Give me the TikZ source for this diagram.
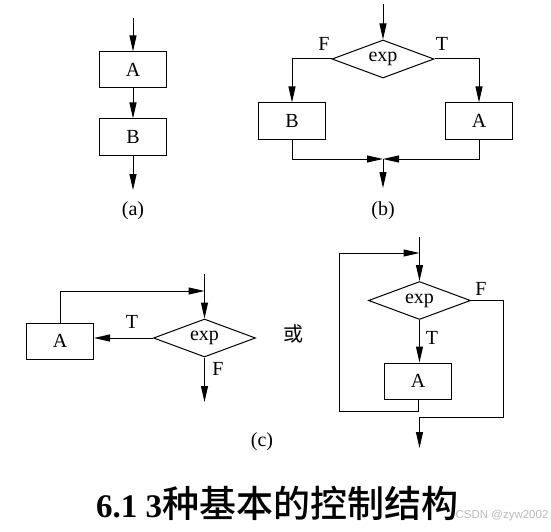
\documentclass[tikz,border=0pt]{standalone}
\usepackage{fontspec}
\setmainfont{Liberation Serif}
\newfontfamily\cjk{Noto Sans CJK SC}
\newfontfamily\cjkmed{Noto Sans CJK SC}[UprightFont=* Medium]
\newfontfamily\wmfont{Liberation Sans}
\usepackage{tikz}
\usepackage{xcolor}
\usetikzlibrary{shapes.geometric,arrows.meta}
\tikzset{
  block/.style={ % image of a processing box
    draw, rectangle, line width=1pt,
    minimum width=67pt, minimum height=36pt,
    inner sep=0pt, text=black,
    font=\fontsize{20}{20}\selectfont
  },
  decide/.style={  % image of a test (diamond)
    draw, diamond, aspect=2.7, line width=1pt,
    minimum width=102pt, minimum height=38pt,
    inner sep=0pt, text=black,
    font=\fontsize{20}{20}\selectfont
  },
  lab/.style={
    inner sep=0pt, font=\fontsize{20}{20}\selectfont
  }
}

\begin{document}
\begin{tikzpicture}[
      x=1pt, y=-1pt, line width=1pt,
      >={Triangle[length=16pt,width=7pt]}
    ]
      \useasboundingbox (0,0) rectangle (551,532);

      % (a) sequence
      \coordinate (a_in) at (133,18);
      \node[block] (a_A) at (133,70) {A};
      \node[block] (a_B) at (133,137) {B};
      \coordinate (a_out) at (133,190);
      \draw[->] (a_in) -- (a_A);
      \draw[->] (a_A) -- (a_B);
      \draw[->] (a_B) -- (a_out);
      \node[lab] (a_cap) at (133,211) {(a)};

      % (b) selection
      \coordinate (b_in) at (383,4);
      \node[decide] (b_exp) at (383,59) {exp};
      \node[block] (b_B) at (292,121) {B};
      \node[block] (b_A) at (479,121) {A};
      \coordinate (b_join) at (383,159);
      \coordinate (b_out) at (383,188);
      \draw[->] (b_in) -- (b_exp);
      \draw[->] (b_exp.west) -| (b_B.north);
      \draw[->] (b_exp.east) -| (b_A.north);
      \draw[->] (b_B.south) |- (b_join);
      \draw[->] (b_A.south) |- (b_join);
      \draw[->] (b_join) -- (b_out);
      \node[lab] (b_F) at (324,44) {F};
      \node[lab] (b_T) at (442,44) {T};
      \node[lab] (b_cap) at (383,211) {(b)};

      % (c) loop, test first, body on the side
      \coordinate (c_in) at (204.5,274);
      \coordinate (c_join) at (204.5,291);
      \node[decide] (c_exp) at (204.5,338) {exp};
      \node[block] (c_A) at (60,341) {A};
      \coordinate (c_out) at (204.5,402);
      \draw (c_in) -- (c_join);
      \draw[->] (c_join) -- (c_exp);
      \draw[->] (c_exp.west) -- (c_exp.west -| c_A.east);
      \draw[->] (c_A.north) |- (c_join);
      \draw[->] (c_exp) -- (c_out);
      \node[lab] (c_T) at (132,322) {T};
      \node[lab] (c_F) at (218,369) {F};
      \node[lab] (c_or) at (293,334) {\cjk 或};
      \node[lab] (c_cap) at (262,442) {(c)};

      % (c) loop, body below
      \coordinate (d_in) at (419.5,237);
      \coordinate (d_join) at (419.5,253);
      \node[decide] (d_exp) at (419.5,300.5) {exp};
      \node[block] (d_A) at (418,381) {A};
      \coordinate (d_back) at (339,411);
      \coordinate (d_right) at (503,417);
      \coordinate (d_turn) at (419.5,417);
      \coordinate (d_out) at (419.5,448);
      \draw (d_in) -- (d_join);
      \draw[->] (d_join) -- (d_exp);
      \draw[->] (d_exp.south) -- (d_exp.south |- d_A.north);
      \draw[->] (d_A.south) |- (d_back) |- (d_join);
      \draw[->] (d_exp.east) -| (d_right) -- (d_turn) -- (d_out);
      \node[lab] (d_F) at (481,289) {F};
      \node[lab] (d_T) at (432,338) {T};

      % caption
      \node[inner sep=0pt, font=\fontsize{33}{33}\selectfont\bfseries] (title)
        at (277,503) {6.1 3{\cjkmed\mdseries\fontsize{37}{37}\selectfont 种基本的控制结构}};
      \node[inner sep=0pt, text=gray!55, font=\wmfont\fontsize{11.5}{11.5}\selectfont]
        (wm) at (502,516) {CSDN @zyw2002};
    \end{tikzpicture}
\end{document}
